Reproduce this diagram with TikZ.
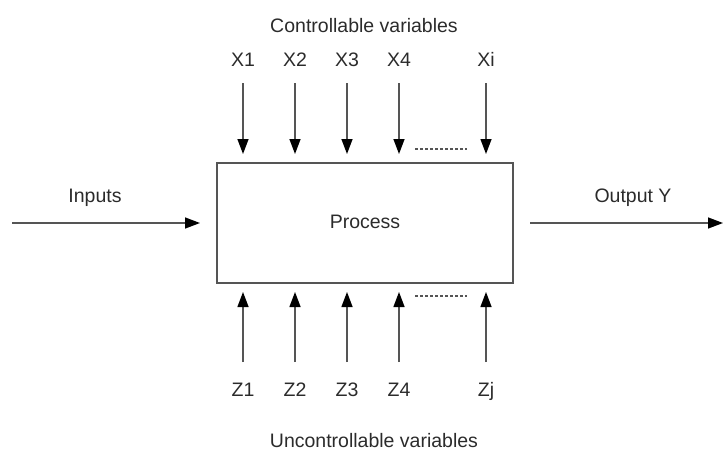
\documentclass[tikz,border=0pt]{standalone}
\usepackage{fontspec}
\setmainfont{Liberation Sans}
\usetikzlibrary{arrows.meta}

\definecolor{linegray}{HTML}{555555}
\definecolor{textgray}{HTML}{2B2B2B}

\begin{document}
\begin{tikzpicture}[x=1pt,y=-1pt,
  lbl/.style={text=textgray,font=\fontsize{19.5}{22}\selectfont,inner sep=0pt,anchor=base},
  flow/.style={draw=linegray,line width=1.4pt,
    -{Triangle[length=15pt,width=11pt,color=black]}},
  dots/.style={draw=linegray,line width=1.2pt,dash pattern=on 3pt off 2pt},
  procbox/.style={draw=linegray,line width=1.4pt,minimum width=296pt,minimum height=120pt,
    inner sep=0pt}]

  \useasboundingbox (0,0) rectangle (723,453);

  % process block
  \node[procbox] (proc) at (365,223) {};
  \node[lbl] (proclbl) at (365,228) {Process};

  % headings
  \node[lbl] (ctrl) at (364,32) {Controllable variables};
  \node[lbl] (unctrl) at (374,447) {Uncontrollable variables};

  % controllable factors X (top) and noise factors Z (bottom)
  \foreach \n/\x/\t/\b in {1/243/X1/Z1, 2/295/X2/Z2, 3/347/X3/Z3, 4/399/X4/Z4, 5/486/Xi/Zj}{
    \node[lbl] (x\n) at (\x,66) {\t};
    \coordinate (xs\n) at (\x,83);
    \coordinate (xe\n) at (\x,154);
    \draw[flow] (xs\n) -- (xe\n);
    \node[lbl] (z\n) at (\x,396) {\b};
    \coordinate (zs\n) at (\x,362);
    \coordinate (ze\n) at (\x,292);
    \draw[flow] (zs\n) -- (ze\n);
  }

  % ellipses between X4/Xi and Z4/Zj
  \coordinate (dt1) at (415,149);
  \coordinate (dt2) at (467,149);
  \draw[dots] (dt1) -- (dt2);
  \coordinate (db1) at (415,296);
  \coordinate (db2) at (467,296);
  \draw[dots] (db1) -- (db2);

  % input and output
  \coordinate (inS) at (12,223);
  \coordinate (inE) at (200,223);
  \draw[flow] (inS) -- (inE);
  \node[lbl] (inlbl) at (95,202) {Inputs};

  \coordinate (outS) at (530,223);
  \coordinate (outE) at (723,223);
  \draw[flow] (outS) -- (outE);
  \node[lbl] (outlbl) at (633,202) {Output Y};
\end{tikzpicture}
\end{document}
